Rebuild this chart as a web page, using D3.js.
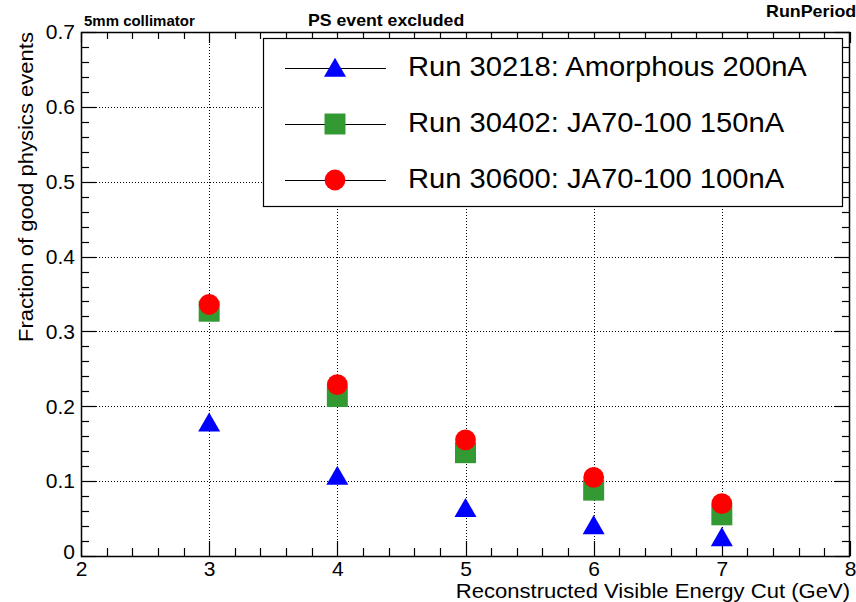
<!DOCTYPE html>
<html>
<head>
<meta charset="utf-8">
<script src="https://d3js.org/d3.v7.min.js"></script>
<style>
  html, body { margin: 0; padding: 0; background: #fff; }
  svg { display: block; font-family: "Liberation Sans", Arial, Helvetica, sans-serif; }
</style>
</head>
<body>
<svg id="chart" width="856" height="602"></svg>
<script>
// Energy cuts (GeV) and fraction of good physics events per run
const energyCuts = [3, 4, 5, 6, 7];
const run30218 = [0.178, 0.107, 0.064, 0.041, 0.025];
const run30402 = [0.327, 0.213, 0.138, 0.088, 0.055];
const run30600 = [0.336, 0.229, 0.155, 0.105, 0.070];

const xTicks = [2, 3, 4, 5, 6, 7, 8];
const yTicks = [0, 0.1, 0.2, 0.3, 0.4, 0.5, 0.6, 0.7];

const seriesList = [
  { name: "Run 30218: Amorphous 200nA", values: run30218, color: "#0000ff", shape: "triangle" },
  { name: "Run 30402: JA70-100 150nA", values: run30402, color: "#339933", shape: "square" },
  { name: "Run 30600: JA70-100 100nA", values: run30600, color: "#ff0000", shape: "circle" }
];

const svg = d3.select("#chart");
const frameL = 81, frameR = 850, frameT = 32, frameB = 556;

const x = d3.scaleLinear().domain([2, 8]).range([frameL, frameR]);
const y = d3.scaleLinear().domain([0, 0.7]).range([frameB, frameT]);

const xMinor = d3.range(2, 8.0001, 0.2);
const yMinor = d3.range(0, 0.7001, 0.02);

// Slightly wider lettering: stretch each text run along its baseline
function widen(sel, k) {
  sel.each(function () {
    const w = this.getComputedTextLength();
    d3.select(this).attr("textLength", w * k).attr("lengthAdjust", "spacingAndGlyphs");
  });
  return sel;
}

// Dotted grid at major ticks
const grid = svg.append("g").attr("stroke", "#000").attr("stroke-width", 1)
  .attr("stroke-dasharray", "1,2");
xTicks.slice(1, -1).forEach(v => {
  grid.append("line").attr("x1", Math.round(x(v)) + 0.5).attr("x2", Math.round(x(v)) + 0.5)
    .attr("y1", frameT).attr("y2", frameB);
});
yTicks.slice(1, -1).forEach(v => {
  grid.append("line").attr("y1", Math.round(y(v)) + 0.5).attr("y2", Math.round(y(v)) + 0.5)
    .attr("x1", frameL).attr("x2", frameR);
});

// Tick marks on all four sides, pointing into the frame
const ticks = svg.append("g").attr("stroke", "#000").attr("stroke-width", 1.2);
const isMajorX = v => Math.abs(v - Math.round(v)) < 1e-6;
const isMajorY = v => Math.abs(v * 10 - Math.round(v * 10)) < 1e-6;
xMinor.forEach(v => {
  const len = isMajorX(v) ? 15 : 8;
  const px = Math.round(x(v)) + 0.5;
  ticks.append("line").attr("x1", px).attr("x2", px).attr("y1", frameB).attr("y2", frameB - len);
  ticks.append("line").attr("x1", px).attr("x2", px).attr("y1", frameT).attr("y2", frameT + (isMajorX(v) ? 11 : 7));
});
yMinor.forEach(v => {
  const len = isMajorY(v) ? 15 : 8;
  const py = Math.round(y(v)) + 0.5;
  ticks.append("line").attr("y1", py).attr("y2", py).attr("x1", frameL).attr("x2", frameL + len);
  ticks.append("line").attr("y1", py).attr("y2", py).attr("x1", frameR).attr("x2", frameR - len);
});

// Axis labels via d3 axes (tick marks hidden, labels kept)
const xAxis = svg.append("g").attr("transform", `translate(0,${frameB})`)
  .call(d3.axisBottom(x).tickValues(xTicks).tickSize(0).tickPadding(4).tickFormat(d3.format("d")));
xAxis.select(".domain").remove();
xAxis.selectAll("text").attr("font-size", 21).attr("font-family", "Liberation Sans, Arial, sans-serif")
  .attr("fill", "#000").attr("dy", "0.76em");

const yAxis = svg.append("g").attr("transform", `translate(${frameL},0)`)
  .call(d3.axisLeft(y).tickValues(yTicks).tickSize(0).tickPadding(6)
    .tickFormat(d => d === 0 ? "0" : d3.format(".1f")(d)));
yAxis.select(".domain").remove();
yAxis.selectAll("text").attr("font-size", 21).attr("font-family", "Liberation Sans, Arial, sans-serif")
  .attr("fill", "#000");
yAxis.selectAll(".tick").filter(d => d === 0).select("text").attr("dy", "0.1em");

// Frame
svg.append("rect").attr("x", frameL + 0.5).attr("y", frameT + 0.5)
  .attr("width", frameR - frameL - 1).attr("height", frameB - frameT)
  .attr("fill", "none").attr("stroke", "#000").attr("stroke-width", 1.5);

// Axis titles
widen(svg.append("text").attr("x", frameR).attr("y", 598).attr("text-anchor", "end")
  .attr("font-size", 21).text("Reconstructed Visible Energy Cut (GeV)"), 1.05);
widen(svg.append("text").attr("transform", `translate(33,${frameT}) rotate(-90)`).attr("text-anchor", "end")
  .attr("font-size", 21).text("Fraction of good physics events"), 1.05);

// Header labels
widen(svg.append("text").attr("x", 84).attr("y", 26).attr("font-size", 14).attr("font-weight", "bold")
  .text("5mm collimator"), 1.07);
widen(svg.append("text").attr("x", 308).attr("y", 26).attr("font-size", 17).attr("font-weight", "bold")
  .text("PS event excluded"), 1.04);
widen(svg.append("text").attr("x", 766).attr("y", 17).attr("font-size", 17).attr("font-weight", "bold")
  .text("RunPeriod"), 1.05);

// Marker drawing
const symbolFor = shape => shape === "triangle" ? d3.symbolTriangle
  : shape === "square" ? d3.symbolSquare : d3.symbolCircle;
const sizeFor = shape => shape === "triangle" ? 210 : shape === "square" ? 440 : 340;

function drawMarker(g, shape, color, cx, cy) {
  const dy = shape === "triangle" ? 2.5 : 0;
  g.append("path").attr("d", d3.symbol().type(symbolFor(shape)).size(sizeFor(shape))())
    .attr("transform", `translate(${cx},${cy + dy})`).attr("fill", color);
}

const marks = svg.append("g");
seriesList.forEach(s => {
  s.values.forEach((v, i) => drawMarker(marks, s.shape, s.color, x(energyCuts[i]), y(v)));
});

// Legend
const legend = svg.append("g");
legend.append("rect").attr("x", 263.5).attr("y", 38.5).attr("width", 579).attr("height", 168)
  .attr("fill", "#fff").attr("stroke", "#000").attr("stroke-width", 1.2);
const rowY = [68, 124, 180];
seriesList.forEach((s, i) => {
  legend.append("line").attr("x1", 285).attr("x2", 386).attr("y1", rowY[i] + 0.5).attr("y2", rowY[i] + 0.5)
    .attr("stroke", "#000").attr("stroke-width", 1.2);
  drawMarker(legend, s.shape, s.color, 335, rowY[i]);
  widen(legend.append("text").attr("x", 408).attr("y", rowY[i]).attr("dy", "0.3em")
    .attr("font-size", 27).text(s.name), 1.08);
});
</script>
</body>
</html>
